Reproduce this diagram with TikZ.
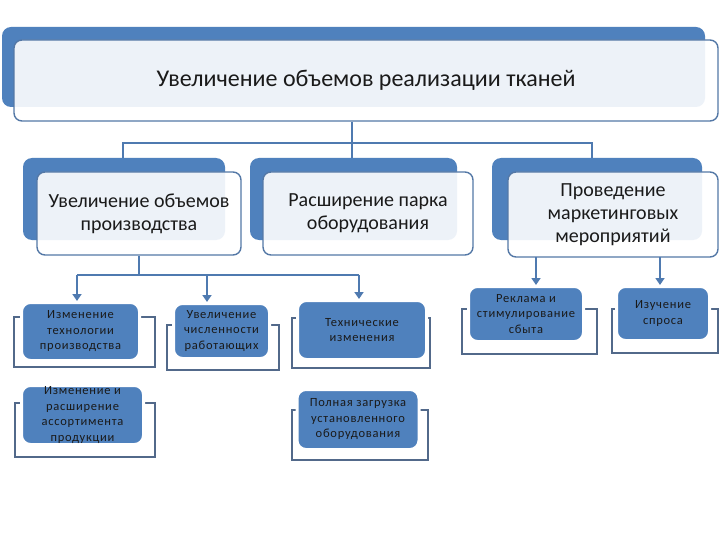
\documentclass[tikz,border=0pt]{standalone}
\usepackage{fontspec}
\setmainfont{Carlito}
\newfontfamily\smallfont[LetterSpace=6]{Carlito}
\usetikzlibrary{arrows.meta}
\definecolor{acc}{HTML}{4F81BD}
\definecolor{lineblue}{HTML}{4F7AB0}
\definecolor{edge}{HTML}{5478A6}
\definecolor{brk}{HTML}{52698A}
\definecolor{txt}{HTML}{1A1A1A}
\begin{document}
\begin{tikzpicture}[x=1pt,y=-1pt,
  bluebg/.style={fill=acc, rounded corners=9pt},
  lightbox/.style={fill=white, fill opacity=0.9, text opacity=1, draw=edge, line width=1.4pt, rounded corners=8pt, text=txt, align=center, inner sep=0pt},
  bigtext/.style={font=\fontsize{20}{23}\selectfont},
  toptext/.style={font=\fontsize{24}{28}\selectfont},
  bracketbox/.style={fill=white, draw=brk, line width=1.4pt},
  leaf/.style={fill=acc, draw=white, line width=3pt, rounded corners=9pt, align=center, text=txt, inner sep=0pt, font=\smallfont\fontsize{12.5}{15.5}\selectfont},
  conn/.style={draw=lineblue, line width=1.3pt},
  conn2/.style={draw=lineblue, line width=2.2pt},
  arr/.style={conn2, -{Triangle[width=9pt,length=7pt]}}
]
\useasboundingbox (0,0) rectangle (720,540);
\fill[white] (0,0) rectangle (720,540);

% ---- top level
\fill[bluebg] (2,27) rectangle (705,107);
\node[lightbox, toptext, minimum width=704pt, minimum height=81pt] (top) at (366,80.5) {Увеличение объемов реализации тканей};

% ---- bus to level 2
\coordinate (b1) at (123,143);
\coordinate (b2) at (352,143);
\coordinate (b3) at (592,143);
\coordinate (d1) at (123,160);
\coordinate (d2) at (352,160);
\coordinate (d3) at (592,160);
\draw[conn] (top.south -| b2) -- (d2);
\draw[conn] (d1) -- (b1) -- (b3) -- (d3);

% ---- level 2
\fill[bluebg] (23,158) rectangle (225,240);
\node[lightbox, bigtext, minimum width=204pt, minimum height=83pt] (m1) at (139,213.5) {Увеличение объемов\\производства};
\fill[bluebg] (250,158) rectangle (457,240);
\node[lightbox, bigtext, minimum width=210pt, minimum height=83pt] (m2) at (368,213.5) {Расширение парка\\оборудования};
\fill[bluebg] (492,158) rectangle (702,240);
\node[lightbox, bigtext, minimum width=210pt, minimum height=85pt] (m3) at (613,214.5) {Проведение\\маркетинговых\\мероприятий};

% ---- level 3 brackets (behind)
\draw[bracketbox] (14,317) rectangle (155,367);
\draw[bracketbox] (167,325) rectangle (279,370);
\draw[bracketbox] (292,318) rectangle (430,368);
\draw[bracketbox] (292,410) rectangle (428,460);
\draw[bracketbox] (15,403) rectangle (155,457);
\draw[bracketbox] (462,309) rectangle (597,354);
\draw[bracketbox] (612,309) rectangle (718,353);

% ---- level 3 boxes
\node[leaf, minimum width=118pt, minimum height=58pt] (a) at (80.5,331.5) {Изменение\\технологии\\производства};
\node[leaf, minimum width=96pt, minimum height=55pt] (b) at (221.5,331) {Увеличение\\численности\\работающих};
\node[leaf, minimum width=129pt, minimum height=59pt] (c) at (362,330) {Технические\\изменения};
\node[leaf, minimum width=122pt, minimum height=60pt] (d) at (358,419.5) {Полная загрузка\\установленного\\оборудования};
\node[leaf, minimum width=122pt, minimum height=59pt] (e) at (82.5,415) {Изменение и\\расширение\\ассортимента\\продукции};
\node[leaf, minimum width=115pt, minimum height=55pt] (f) at (526,314) {Реклама и\\стимулирование\\сбыта};
\node[leaf, minimum width=93pt, minimum height=54pt] (g) at (663,313.5) {Изучение\\спроса};

% ---- level 3 connectors
\coordinate (h0) at (139,275);
\coordinate (ha) at (77,275);
\coordinate (hb) at (207,275);
\coordinate (hc) at (359,275);
\draw[conn2] (m1.south -| h0) -- (h0);
\draw[conn2] (ha) -- (hc);
\draw[arr] (ha) -- (ha |- a.north);
\draw[arr] (hb) -- (hb |- b.north);
\draw[arr] (hc) -- (hc |- c.north);
\coordinate (vf) at (536,257);
\coordinate (vg) at (660,257);
\draw[arr] (vf) -- (vf |- f.north);
\draw[arr] (vg) -- (vg |- g.north);
\end{tikzpicture}
\end{document}
